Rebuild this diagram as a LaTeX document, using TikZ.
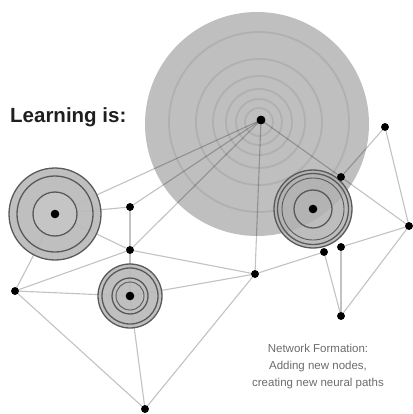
\documentclass[tikz,border=0pt]{standalone}
\usepackage{fontspec}
\setmainfont{Liberation Sans}
\begin{document}
\begin{tikzpicture}[x=1pt,y=-1pt,
  edge/.style={draw=black,draw opacity=0.24,line width=1.1pt},
  dot/.style={circle,fill=black,inner sep=0pt,minimum size=7.5pt},
  bigdot/.style={circle,fill=black,inner sep=0pt,minimum size=8.5pt},
  ripple/.style={draw=black!38,draw opacity=0.45,line width=1.8pt},
  ring/.style={draw=black!65,line width=1.3pt}]
\useasboundingbox (0,0) rectangle (412,414);
% big disc
\fill[black!25] (257,124) circle (112);
\foreach \r in {90,63,46,33,23,14} \draw[ripple] (259,122) circle (\r);
% nodes
\node[bigdot] (A) at (261,120) {};
\node[dot] (B) at (385,127) {};
\node[dot] (C) at (341,177) {};
\node[bigdot] (D) at (313,209) {};
\node[dot] (E) at (409,226) {};
\node[dot] (F) at (341,247) {};
\node[dot] (G) at (324,252) {};
\node[dot] (H) at (341,316) {};
\node[dot] (I) at (255,274) {};
\node[bigdot] (J) at (55,214) {};
\node[dot] (K) at (130,207) {};
\node[dot] (L) at (130,250) {};
\node[dot] (M) at (15,291) {};
\node[bigdot] (N) at (130,296) {};
\node[dot] (O) at (145,409) {};
% connectors
\foreach \a/\b in {A/J,A/K,A/L,A/I,A/C,B/C,B/E,C/E,E/F,E/H,F/H,G/H,G/I,I/L,I/N,I/O,J/K,J/L,J/M,K/L,L/M,L/N,M/N,M/O,N/O}
  \draw[edge] (\a.center) -- (\b.center);
% targets
\fill[black!27,fill opacity=0.92] (J.center) circle (46);
\draw[ring] (J.center) circle (46);
\draw[ring] (J.center) circle (38);
\draw[ring] (J.center) circle (22);
\fill[black!22,fill opacity=0.9] (J.center) circle (21);
\fill[black!27,fill opacity=0.92] (N.center) circle (32);
\draw[ring] (N.center) circle (32);
\draw[ring] (N.center) circle (28);
\draw[ring] (N.center) circle (18);
\draw[ring,line width=0.9pt] (N.center) circle (14);
\fill[black!30,fill opacity=0.85] (D.center) circle (39);
\draw[ring] (D.center) circle (39);
\draw[ring] (D.center) circle (35.5);
\draw[ring,line width=0.9pt] (D.center) circle (31);
\draw[ring] (D.center) circle (19);
% redraw dots on top
\foreach \n in {A,D,J,N} \fill (\n.center) circle (4.3);
\foreach \n in {B,C,E,F,G,H,I,K,L,M,O} \fill (\n.center) circle (3.8);
% texts
\node[anchor=base west,inner sep=0pt,text=black!88,font=\bfseries\fontsize{20.5}{23}\selectfont] (title) at (10,123) {Learning is:};
\node[anchor=base,inner sep=0pt,text=black!58,align=center,font=\fontsize{11.5}{17}\selectfont] (caption) at (318,386) {Network Formation:\\Adding new nodes,\\creating new neural paths};
\end{tikzpicture}
\end{document}
